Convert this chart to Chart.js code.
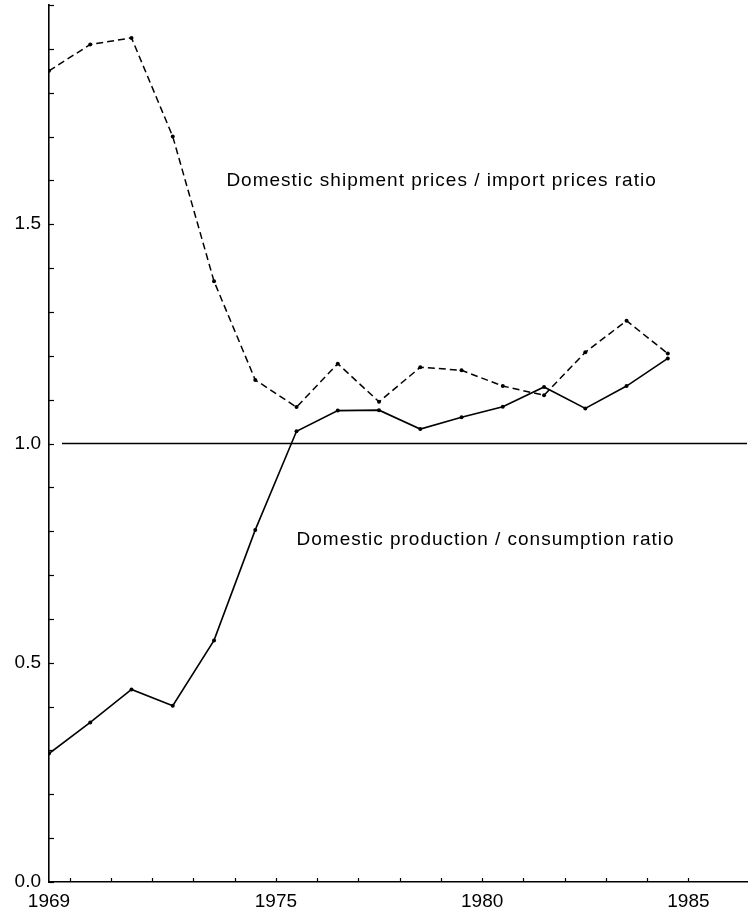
<!DOCTYPE html>
<html>
<head>
<meta charset="utf-8">
<script src="https://cdn.jsdelivr.net/npm/chart.js@4.4.1/dist/chart.umd.min.js"></script>
<style>
  html, body { margin:0; padding:0; background:#fff; }
  #wrap { width:751px; height:913px; }
</style>
</head>
<body>
<div id="wrap"><canvas id="myChart" width="751" height="913"></canvas></div>
<script>
// 데이터
var years = [1969, 1970, 1971, 1972, 1973, 1974, 1975, 1976, 1977, 1978, 1979, 1980, 1981, 1982, 1983, 1984];
var priceRatio = [1.85, 1.91, 1.925, 1.70, 1.37, 1.145, 1.083, 1.182, 1.095, 1.174, 1.167, 1.131, 1.110, 1.208, 1.280, 1.205];
var prodRatio = [0.293, 0.364, 0.439, 0.402, 0.551, 0.803, 1.028, 1.075, 1.076, 1.033, 1.060, 1.084, 1.129, 1.080, 1.131, 1.194];
var xTickLabels = ['1969', '1975', '1980', '1985'];
var yTickLabels = ['0.0', '0.5', '1.0', '1.5'];
var notes = ['Domestic shipment prices / import prices ratio', 'Domestic production / consumption ratio'];
var noteX = [1973.8, 1975.5];
var noteY = [1.60, 0.78];

var xMin = years[0] + 0.5;
var xMax = 1986.42;

function pts(vals) {
  return years.map(function (y, i) { return { x: y + 0.5, y: vals[i] }; });
}

// 눈금, 기준선, 주석
var deco = {
  id: 'deco',
  beforeDatasetsDraw: function (chart) {
    var c = chart.ctx, a = chart.chartArea;
    var xs = chart.scales.x, ys = chart.scales.y;
    c.save();
    c.strokeStyle = '#000';
    c.lineWidth = 1.2;
    // y ticks inside
    for (var v = 0; v <= 20; v++) {
      var py = Math.round(ys.getPixelForValue(v / 10)) + 0.5;
      c.beginPath(); c.moveTo(a.left, py); c.lineTo(a.left + 5, py); c.stroke();
    }
    // x ticks inside
    for (var yr = years[0] + 1; yr <= 1985; yr++) {
      var px = Math.round(xs.getPixelForValue(yr)) + 0.5;
      c.beginPath(); c.moveTo(px, a.bottom); c.lineTo(px, a.bottom - 4); c.stroke();
    }
    // 1.0 line
    var p1 = ys.getPixelForValue(1);
    c.lineWidth = 1.6;
    c.beginPath(); c.moveTo(a.left + 13, p1); c.lineTo(a.right, p1); c.stroke();
    // notes
    c.fillStyle = '#000';
    c.font = '19px "Liberation Sans", Arial, sans-serif';
    c.letterSpacing = '1px';
    c.textAlign = 'left';
    c.textBaseline = 'middle';
    notes.forEach(function (t, i) {
      c.fillText(t, xs.getPixelForValue(noteX[i]), ys.getPixelForValue(noteY[i]));
    });
    c.restore();
  }
};

Chart.defaults.font.family = '"Liberation Sans", Arial, sans-serif';
Chart.defaults.color = '#000';

new Chart(document.getElementById('myChart'), {
  type: 'line',
  data: {
    datasets: [
      {
        label: 'Domestic shipment prices / import prices ratio',
        data: pts(priceRatio),
        borderColor: '#000',
        backgroundColor: '#000',
        borderWidth: 1.5,
        borderDash: [7, 4],
        pointRadius: 2,
        pointBorderWidth: 0,
        tension: 0
      },
      {
        label: 'Domestic production / consumption ratio',
        data: pts(prodRatio),
        borderColor: '#000',
        backgroundColor: '#000',
        borderWidth: 1.6,
        pointRadius: 2,
        pointBorderWidth: 0,
        tension: 0
      }
    ]
  },
  options: {
    responsive: false,
    animation: false,
    devicePixelRatio: 1,
    layout: { padding: { top: 5, right: 0, left: 0, bottom: 0 } },
    plugins: { legend: { display: false }, tooltip: { enabled: false } },
    scales: {
      x: {
        type: 'linear',
        min: xMin,
        max: xMax,
        grid: { display: false },
        border: { display: true, color: '#000', width: 1.6 },
        afterBuildTicks: function (s) {
          s.ticks = xTickLabels.map(function (l) { return { value: Math.max(+l, xMin), label: l }; });
        },
        afterFit: function (s) { s.height = 31; s.paddingLeft = 0; s.paddingRight = 0; },
        ticks: {
          autoSkip: false,
          maxRotation: 0,
          padding: 0,
          font: { size: 19 },
          callback: function (v) {
            var i = xTickLabels.findIndex(function (l) { return Math.max(+l, xMin) === v; });
            return i < 0 ? null : xTickLabels[i];
          }
        }
      },
      y: {
        min: 0,
        max: 2,
        grid: { display: false },
        border: { display: true, color: '#000', width: 1.6 },
        afterFit: function (s) { s.width = 49; s.paddingTop = 0; s.paddingBottom = 0; },
        ticks: {
          stepSize: 0.5,
          padding: 0,
          font: { size: 19 },
          callback: function (v) {
            var i = yTickLabels.indexOf(Number(v).toFixed(1));
            return i < 0 ? null : yTickLabels[i];
          }
        }
      }
    }
  },
  plugins: [deco]
});
</script>
</body>
</html>
